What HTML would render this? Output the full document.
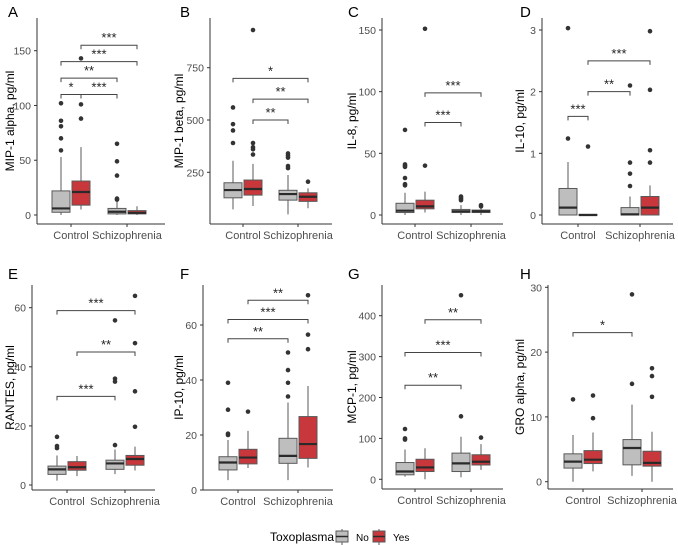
<!DOCTYPE html>
<html><head><meta charset="utf-8">
<style>
html,body{margin:0;padding:0;background:#fff;}
svg{display:block;font-family:"Liberation Sans",sans-serif;}
</style></head>
<body>
<svg id="chart" width="678" height="545" viewBox="0 0 678 545"></svg>
<script>
// ---- Data (order: Control-No, Control-Yes, Schizophrenia-No, Schizophrenia-Yes) ----
const categories = ["Control", "Schizophrenia"];
const groups = ["No", "Yes"];
const panelLetters = ["A","B","C","D","E","F","G","H"];
const yTitles = ["MIP-1 alpha, pg/ml","MIP-1 beta, pg/ml","IL-8, pg/ml","IL-10, pg/ml","RANTES, pg/ml","IP-10, pg/ml","MCP-1, pg/ml","GRO alpha, pg/ml"];
const tickValues = [[0,50,100,150],[250,500,750],[0,50,100,150],[0,1,2,3],[0,20,40,60],[0,20,40,60],[0,100,200,300,400],[0,10,20,30]];
// box stats: [low whisker, q1, median, q3, high whisker]
const boxStatsA = [[0,2.5,6,22,53],[5,9,21,31,62],[0,1,3,6,12],[0,1,2,4,8]];
const boxStatsB = [[73,128,165,200,305],[89,141,170,213,290],[49,117,146,164,237],[78,111,133,152,173]];
const boxStatsC = [[0,2,3.5,9.5,18],[2,5,7,12,19],[0,2,3,4.5,8],[0,2,3,4,6]];
const boxStatsD = [[0,0,0.12,0.43,0.86],[0,0,0,0.01,0],[0,0,0.01,0.12,0.3],[0,0,0.12,0.3,0.48]];
const boxStatsE = [[1.5,3.6,5.3,6.4,10],[3,5,6,7.9,9.8],[3.7,5.3,7.3,8.4,12],[4.9,6.7,8.8,10,13]];
const boxStatsF = [[3.6,7.3,10,12.1,18.2],[8,9.5,11.8,14.8,21.5],[3.6,9.7,12.4,18.8,31.8],[8.2,11.5,16.7,26.7,37.8]];
const boxStatsG = [[6.5,11,19,41,73],[0,19,29,49,76],[5,19,39,64,104],[23,35,43,60,86]];
const boxStatsH = [[0,2.1,3.1,4.3,7.2],[1.6,2.8,3.4,4.8,7.6],[0.9,2.6,5.2,6.5,11.9],[0,2.4,2.9,4.7,7.7]];
const outliersA = [[59,70,81,86,102],[88,101,143],[14,15,36,49,65],[]];
const outliersB = [[390,450,480,560],[335,360,370,390,930],[270,280,320,330,340],[205]];
const outliersC = [[24,25,30,39,40,41,69],[40,151],[12,13,14,15],[7,8]];
const outliersD = [[1.24,3.03],[1.11],[0.47,0.67,0.85,2.1],[0.85,1.05,2.03,2.98]];
const outliersE = [[12.5,13.2,16.3],[],[13.5,35,36,55.7],[19.7,31.7,48,64]];
const outliersF = [[20,20.5,29.2,39],[28.5],[34,39,43.6,50],[51.2,56.5,70.8]];
const outliersG = [[97,100,123],[],[154,450],[102]];
const outliersH = [[12.7],[9.8,13.3],[15.1,28.9],[13.1,16.3,17.5]];
// brackets: [from group, to group, y value, label]
const bracketsA = [[0,1,110,"*"],[1,2,110,"***"],[0,2,125,"**"],[0,3,140,"***"],[1,3,155,"***"]];
const bracketsB = [[1,2,500,"**"],[1,3,600,"**"],[0,3,699,"*"]];
const bracketsC = [[1,2,75,"***"],[1,3,99,"***"]];
const bracketsD = [[0,1,1.6,"***"],[1,2,2.0,"**"],[1,3,2.5,"***"]];
const bracketsE = [[0,2,30,"***"],[1,3,45,"**"],[0,3,59,"***"]];
const bracketsF = [[0,2,55,"**"],[0,3,62,"***"],[1,3,69,"**"]];
const bracketsG = [[0,2,230,"**"],[0,3,310,"***"],[1,3,390,"**"]];
const bracketsH = [[0,2,23,"*"]];
const allBox = [boxStatsA,boxStatsB,boxStatsC,boxStatsD,boxStatsE,boxStatsF,boxStatsG,boxStatsH];
const allOut = [outliersA,outliersB,outliersC,outliersD,outliersE,outliersF,outliersG,outliersH];
const allBr = [bracketsA,bracketsB,bracketsC,bracketsD,bracketsE,bracketsF,bracketsG,bracketsH];

// ---- Layout (pixel geometry per panel) ----
const layout = [
 {ax:37, right:165, top:18, bottom:224, c1:71, c2:127, v1:0,p1:215, v2:150,p2:50.7, titleX:14, letterX:8, letterY:17},
 {ax:210,right:332, top:18, bottom:224, c1:243,c2:298, v1:250,p1:172.3, v2:750,p2:67.7, titleX:183, letterX:180, letterY:17},
 {ax:382,right:503, top:18, bottom:224, c1:415,c2:471, v1:0,p1:215, v2:150,p2:30, titleX:356, letterX:348, letterY:17},
 {ax:542,right:673, top:18, bottom:224, c1:578,c2:640, v1:0,p1:215, v2:3,p2:30, titleX:524, letterX:520, letterY:17},
 {ax:32, right:155, top:285,bottom:490, c1:67, c2:125, v1:0,p1:485, v2:60,p2:307.7, titleX:14, letterX:8, letterY:279},
 {ax:203,right:333, top:285,bottom:490, c1:238,c2:298, v1:0,p1:490, v2:60,p2:325, titleX:183, letterX:180, letterY:279},
 {ax:382,right:503, top:285,bottom:489, c1:415,c2:471, v1:0,p1:479.3, v2:400,p2:315.7, titleX:356, letterX:348, letterY:279},
 {ax:548,right:673, top:285,bottom:489, c1:583,c2:642, v1:0,p1:481.7, v2:30,p2:287.3, titleX:524, letterX:520, letterY:279}
];
const FILL = ["#bebebe","#c8373b"];
const NS = "http://www.w3.org/2000/svg";
const svg = document.getElementById("chart");
function mk(tag, attrs, parent){ const e=document.createElementNS(NS,tag); for(const k in attrs) e.setAttribute(k,attrs[k]); (parent||svg).appendChild(e); return e; }

for(let p=0;p<8;p++){
  const L = layout[p];
  const g = mk("g",{});
  
  
  const y = v => L.p1 + (v - L.v1) * (L.p2 - L.p1) / (L.v2 - L.v1);
  const xg = i => { const c = i<2 ? L.c1 : L.c2; return c + (i%2===0 ? -10 : 10); };
  const lt = mk("text",{x:L.letterX,y:L.letterY,"font-size":15,fill:"#000"},g); lt.textContent = panelLetters[p];
  
  
  const ya = mk("line",{x1:L.ax,y1:L.top,x2:L.ax,y2:L.bottom,stroke:"#333","stroke-width":1},g);
  
  
  const xa = mk("line",{x1:L.ax,y1:L.bottom,x2:L.right,y2:L.bottom,stroke:"#333","stroke-width":1},g);
  
  
  tickValues[p].forEach(v=>{
    mk("line",{x1:L.ax-3,y1:y(v),x2:L.ax,y2:y(v),stroke:"#333"},g);
    const t = mk("text",{x:L.ax-6,y:y(v)+4,"font-size":10.5,fill:"#4d4d4d","text-anchor":"end"},g);
    t.textContent = v;
    
    
  });
  [L.c1,L.c2].forEach((cx,i)=>{
    mk("line",{x1:cx,y1:L.bottom,x2:cx,y2:L.bottom+3,stroke:"#333"},g);
    const t = mk("text",{x:cx,y:L.bottom+15,"font-size":11,fill:"#4d4d4d","text-anchor":"middle"},g);
    t.textContent = categories[i];
    
    
  });
  const cy = (L.top + L.bottom)/2;
  const yt = mk("text",{x:0,y:0,"font-size":12,fill:"#000","text-anchor":"middle",transform:`translate(${L.titleX},${cy}) rotate(-90)`},g);
  yt.textContent = yTitles[p];
  
  
  allBox[p].forEach((s,i)=>{
    const cx = xg(i), w = 18;
    const bg = mk("g",{},g);
    
    
    mk("line",{x1:cx,y1:y(s[0]),x2:cx,y2:y(s[1]),stroke:"#595959"},bg);
    mk("line",{x1:cx,y1:y(s[3]),x2:cx,y2:y(s[4]),stroke:"#595959"},bg);
    mk("rect",{x:cx-w/2,y:y(s[3]),width:w,height:Math.max(1,y(s[1])-y(s[3])),fill:FILL[i%2],stroke:"#595959","stroke-width":1},bg);
    mk("line",{x1:cx-w/2,y1:y(s[2]),x2:cx+w/2,y2:y(s[2]),stroke:"#2a2a2a","stroke-width":2.2},bg);
    allOut[p][i].forEach(o=>{
      const c = mk("circle",{cx:cx,cy:y(o),r:2.3,fill:"#333"},bg);
      
      
    });
  });
  allBr[p].forEach(b=>{
    const x1 = xg(b[0]), x2 = xg(b[1]), yy = y(b[2]);
    const bg = mk("g",{},g);
    
    
    mk("path",{d:`M${x1},${yy+4}V${yy}H${x2}V${yy+4}`,fill:"none",stroke:"#444","stroke-width":1},bg);
    const t = mk("text",{x:(x1+x2)/2,y:yy-3,"font-size":13,fill:"#222","text-anchor":"middle"},bg);
    t.textContent = b[3];
  });
}
const lg = mk("g",{});


const lt = mk("text",{x:270,y:541,"font-size":12,fill:"#000"},lg); lt.textContent = "Toxoplasma";


[[336,"No"],[373,"Yes"]].forEach((e,i)=>{
  const eg = mk("g",{},lg);
  
  
  mk("line",{x1:e[0]+6,y1:529,x2:e[0]+6,y2:545,stroke:"#595959"},eg);
  mk("rect",{x:e[0],y:531,width:12,height:11,fill:FILL[i],stroke:"#595959"},eg);
  mk("line",{x1:e[0],y1:536.5,x2:e[0]+12,y2:536.5,stroke:"#2a2a2a","stroke-width":1.5},eg);
  const t = mk("text",{x:e[0]+20,y:541,"font-size":10,fill:"#000"},eg); t.textContent = groups[i];
});
</script>
</body></html>
